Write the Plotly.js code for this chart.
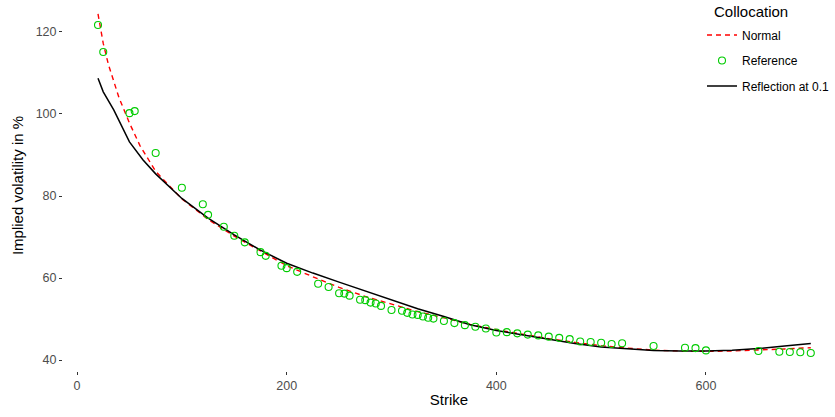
<!DOCTYPE html>
<html>
<head>
<meta charset="utf-8">
<script src="https://cdn.plot.ly/plotly-3.0.1.min.js"></script>
<style>html,body{margin:0;padding:0;background:#fff;}#chart{width:835px;height:417px;}</style>
</head>
<body>
<div id="chart"></div>
<script>
// Reference (market) implied vols
const refStrike = [20, 25, 50, 55, 75, 100, 120, 125, 140, 150, 160, 175, 180, 195, 200, 210, 230, 240, 250, 255, 260, 270, 275, 280, 285, 290, 300, 310, 315, 320, 325, 330, 335, 340, 350, 360, 370, 380, 390, 400, 410, 420, 430, 440, 450, 460, 470, 480, 490, 500, 510, 520, 550, 580, 590, 600, 650, 670, 680, 690, 700];
const refVol = [121.7, 115.1, 100.2, 100.7, 90.5, 82.0, 78.0, 75.4, 72.5, 70.3, 68.7, 66.3, 65.4, 63.0, 62.4, 61.5, 58.6, 57.8, 56.3, 56.2, 55.7, 54.7, 54.6, 54.0, 53.8, 53.2, 52.2, 52.0, 51.5, 51.1, 51.0, 50.6, 50.3, 50.1, 49.5, 49.0, 48.5, 48.1, 47.7, 46.7, 46.8, 46.5, 46.2, 46.0, 45.7, 45.4, 45.1, 44.5, 44.4, 44.2, 43.9, 44.1, 43.4, 43.0, 42.9, 42.35, 42.2, 42.0, 41.95, 41.9, 41.7];

// Normal collocation
const normStrike = [20, 25, 30, 40, 50, 60, 75, 100, 125, 150, 175, 200, 225, 250, 275, 300, 325, 350, 375, 400, 425, 450, 475, 500, 525, 550, 575, 600, 625, 650, 675, 700];
const normVol = [124.4, 117.2, 112.0, 104.0, 97.8, 92.3, 86.0, 79.3, 74.3, 70.2, 66.6, 63.0, 60.3, 57.7, 55.5, 53.6, 51.8, 50.3, 48.7, 47.4, 46.3, 45.2, 44.3, 43.5, 42.9, 42.4, 42.2, 42.1, 42.2, 42.4, 42.7, 43.0];

// Reflection at 0.1
const reflStrike = [20, 25, 35, 45, 50, 63, 75, 100, 125, 150, 175, 200, 225, 250, 275, 300, 325, 350, 375, 400, 425, 450, 475, 500, 525, 550, 575, 600, 625, 650, 675, 700];
const reflVol = [108.7, 105.4, 101.0, 95.9, 93.2, 88.8, 85.4, 79.4, 74.6, 70.5, 66.8, 63.6, 61.2, 59.0, 56.8, 54.6, 52.5, 50.6, 48.6, 47.2, 46.1, 45.0, 44.0, 43.2, 42.7, 42.35, 42.2, 42.2, 42.4, 42.8, 43.4, 44.0];

const xTicks = [0, 200, 400, 600];
const yTicks = [40, 60, 80, 100, 120];
const legendTitle = 'Collocation';

const traces = [
  {x: normStrike, y: normVol, name: 'Normal', type: 'scatter', mode: 'lines',
   line: {color: '#ff0000', width: 1.4, dash: '5px,4px'}, legendrank: 1, legendgroup: 'a'},
  {x: reflStrike, y: reflVol, name: 'Reflection at 0.1', type: 'scatter', mode: 'lines',
   line: {color: '#000000', width: 1.5}, legendrank: 3, legendgroup: 'c'},
  {x: refStrike, y: refVol, name: 'Reference', type: 'scatter', mode: 'markers',
   marker: {symbol: 'circle-open', size: 7, color: '#00cc00', line: {width: 1.1, color: '#00cc00'}},
   legendrank: 2, legendgroup: 'b'}
];

const fam = 'Liberation Sans, Arial, sans-serif';
const tickFont = {family: fam, size: 12.5, color: '#4d4d4d'};
const titleFont = {family: fam, size: 15, color: '#000000'};

const layout = {
  width: 835, height: 417,
  margin: {l: 63, r: 0, t: 0, b: 46, autoexpand: false},
  paper_bgcolor: '#ffffff', plot_bgcolor: '#ffffff',
  font: {family: fam},
  xaxis: {
    range: [-13.4, 723.1], tickvals: xTicks, ticktext: xTicks.map(String),
    showgrid: false, zeroline: false, showline: false, automargin: false,
    ticks: 'outside', ticklen: 3, tickwidth: 1, tickcolor: '#333333',
    tickfont: tickFont,
    title: {text: 'Strike', font: titleFont, standoff: 2}
  },
  yaxis: {
    range: [37.32, 127.8], tickvals: yTicks, ticktext: yTicks.map(String),
    showgrid: false, zeroline: false, showline: false, automargin: false,
    ticks: 'outside', ticklen: 3, tickwidth: 1, tickcolor: '#333333',
    tickfont: tickFont,
    title: {text: 'Implied volatility in %', font: titleFont, standoff: 8}
  },
  showlegend: true,
  legend: {
    x: (702 - 63) / 772, xanchor: 'left', y: 1 - 20.5 / 371, yanchor: 'top',
    bgcolor: 'rgba(0,0,0,0)', borderwidth: 0,
    font: {family: fam, size: 12, color: '#000000'},
    tracegroupgap: 6.5,
    traceorder: 'grouped'
  },
  annotations: [{
    text: legendTitle, xref: 'paper', yref: 'paper',
    x: (712 - 63) / 772, xanchor: 'left', y: 1 - 1 / 371, yanchor: 'top',
    showarrow: false, font: {family: fam, size: 15, color: '#000000'}
  }]
};

Plotly.newPlot('chart', traces, layout, {displayModeBar: false, staticPlot: true});
</script>
</body>
</html>
